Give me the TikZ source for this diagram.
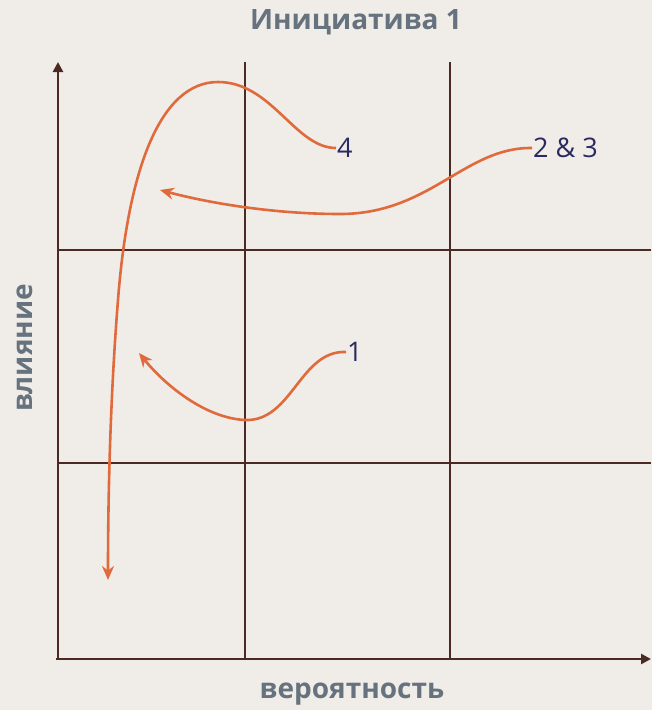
\documentclass[tikz,border=0pt]{standalone}
\usepackage{fontspec}
\setmainfont{Open Sans}
\usetikzlibrary{arrows.meta,positioning}
\definecolor{FigBg}{HTML}{F0EDE8}
\definecolor{FigBrown}{HTML}{4A2A22}
\definecolor{FigOrange}{HTML}{E06A3C}
\definecolor{FigGrey}{HTML}{66737F}
\definecolor{FigNavy}{HTML}{2B2A60}

\begin{document}
\begin{tikzpicture}[
x=1pt, y=-1pt,
>=Stealth,
gridline/.style={draw=FigBrown, line width=2.8pt},
axisline/.style={gridline, -{Triangle[length=10pt,width=10pt]}},
flow/.style={draw=FigOrange, line width=2.6pt, -{Stealth[length=14pt,width=12pt]}},
numlabel/.style={text=FigNavy, font=\fontsize{27}{32}\selectfont, inner sep=1pt, anchor=west},
axislabel/.style={text=FigGrey, font=\bfseries\fontsize{28}{33}\selectfont}
]

% background and bounding box
\fill[FigBg] (0,0) rectangle (652,710);

% grid corners
\coordinate (o) at (58,659);
\coordinate (ytop) at (58,62);
\coordinate (xend) at (651,659);

% grid
\draw[gridline] (245,62) -- (245,659);
\draw[gridline] (450,62) -- (450,659);
\draw[gridline] (58,250) -- (651,250);
\draw[gridline] (58,463) -- (651,463);

% axes
\draw[axisline] (58,660) -- (ytop);
\draw[axisline] (56,659) -- (xend);

% labels
\node[axislabel] (title) at (356,22) {Инициатива 1};
\node[axislabel] (xlab) at (352,694) {вероятность};
\node[axislabel, rotate=90] (ylab) at (25,348) {влияние};

\node[numlabel] (n4) at (336,148) {4};
\node[numlabel] (n23) at (532,148) {2 \& 3};
\node[numlabel] (n1) at (346,352) {1};

\coordinate (e4) at (108,580);
\coordinate (e23) at (160,190);
\coordinate (e1) at (139,353);

% flows
\draw[flow] (n4.west) .. controls (295,148) and (272,82) .. (218,82)
  .. controls (160,82) and (128,170) .. (118,300)
  .. controls (110,400) and (108,500) .. (e4);
\draw[flow] (n23.west) .. controls (465,147) and (430,214) .. (340,214)
  .. controls (270,214) and (205,202) .. (e23);
\draw[flow] (n1.west) .. controls (300,350) and (292,422) .. (245,420)
  .. controls (205,418) and (165,385) .. (e1);

\end{tikzpicture}
\end{document}
